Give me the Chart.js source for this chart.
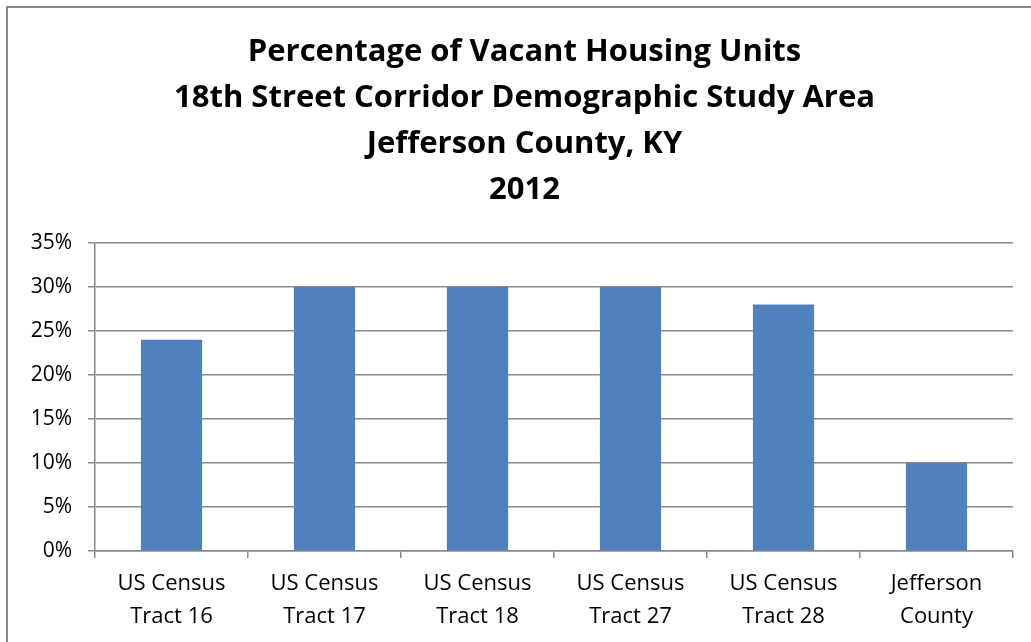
<!DOCTYPE html>
<html>
<head>
<meta charset="utf-8">
<script src="https://cdn.jsdelivr.net/npm/chart.js@4.4.1/dist/chart.umd.min.js"></script>
<style>
  html, body { margin: 0; padding: 0; background: #fff; overflow: hidden; }
  .frame { position: absolute; left: 6px; top: 6px; width: 1100px; height: 700px; border: 2px solid #8a8a8a; }
  .wrap { position: absolute; left: 0; top: 0; width: 1031px; height: 642px; }
</style>
</head>
<body>
<div class="frame"></div>
<div class="wrap"><canvas id="myChart"></canvas></div>
<script>
const categories = [
    ['US Census', 'Tract 16'],
    ['US Census', 'Tract 17'],
    ['US Census', 'Tract 18'],
    ['US Census', 'Tract 27'],
    ['US Census', 'Tract 28'],
    ['Jefferson', 'County']
];
const vacantPct = [24, 30, 30, 30, 28, 10];
const titleLines = [
    'Percentage of Vacant Housing Units',
    '18th Street Corridor Demographic Study Area',
    'Jefferson County, KY',
    '2012'
];

const gridGray = '#8a8a8a';
const fontFamily = "'Open Sans', 'Noto Sans', sans-serif";

const ctx = document.getElementById('myChart');
Chart.defaults.color = '#000';

// the original title sits a bit right of the canvas centre
const titleShift = {
    id: 'titleShift',
    afterLayout(chart) {
        if (chart.titleBlock) {
            chart.titleBlock.left += 18;
            chart.titleBlock.right += 18;
        }
    }
};

const myChart = new Chart(ctx, {
    type: 'bar',
    data: {
        labels: categories,
        datasets: [{
            data: vacantPct,
            backgroundColor: '#4f81bd',
            barPercentage: 0.4,
            categoryPercentage: 1
        }]
    },
    plugins: [titleShift],
    options: {
        responsive: true,
        maintainAspectRatio: false,
        animation: false,
        layout: { padding: { left: 0, right: 18, top: 0, bottom: 0 } },
        plugins: {
            legend: { display: false },
            tooltip: { enabled: false },
            title: {
                display: true,
                text: titleLines,
                font: { family: fontFamily, size: 31, weight: 'bold', lineHeight: 1.484 },
                color: '#000',
                padding: { top: 29, bottom: 30 }
            }
        },
        scales: {
            y: {
                min: 0,
                max: 35,
                afterFit: (scale) => { scale.width = 95; },
                ticks: {
                    stepSize: 5,
                    padding: 16,
                    font: { family: fontFamily, size: 21 },
                    color: '#000',
                    callback: (v) => v + '%'
                },
                grid: { color: gridGray, lineWidth: 1.5, tickLength: 7, tickColor: gridGray },
                border: { color: gridGray, width: 1.5 }
            },
            x: {
                ticks: {
                    padding: 9,
                    font: { family: fontFamily, size: 22, lineHeight: 1.5 },
                    color: '#000',
                    maxRotation: 0
                },
                grid: { drawOnChartArea: false, tickLength: 7, tickColor: gridGray, lineWidth: 1.5 },
                border: { color: gridGray, width: 1.5 }
            }
        }
    }
});
</script>
</body>
</html>
